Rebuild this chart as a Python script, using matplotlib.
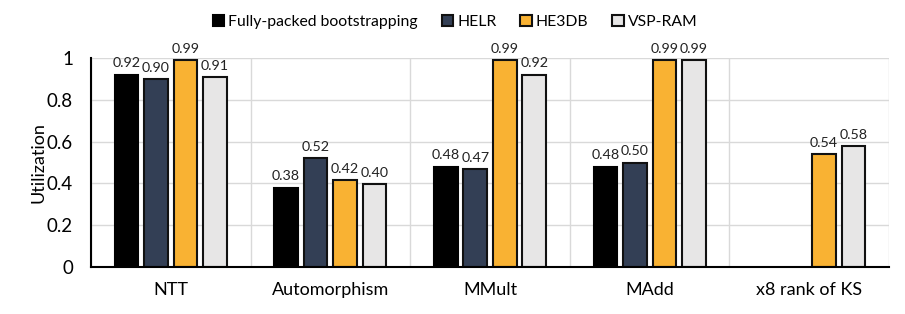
import numpy as np
import matplotlib.pyplot as plt

plt.rcParams['font.family'] = ['Lato', 'DejaVu Sans']

categories = ['NTT', 'Automorphism', 'MMult', 'MAdd', 'x8 rank of KS']
series = ['Fully-packed bootstrapping', 'HELR', 'HE3DB', 'VSP-RAM']
fully_packed = [0.92, 0.38, 0.48, 0.48, np.nan]
helr = [0.90, 0.52, 0.47, 0.50, np.nan]
he3db = [0.99, 0.415, 0.99, 0.99, 0.54]
vsp_ram = [0.91, 0.395, 0.92, 0.99, 0.58]
labels = [
    ['0.92', '0.38', '0.48', '0.48', ''],
    ['0.90', '0.52', '0.47', '0.50', ''],
    ['0.99', '0.42', '0.99', '0.99', '0.54'],
    ['0.91', '0.40', '0.92', '0.99', '0.58'],
]
colors = ['#000000', '#333f55', '#f9b233', '#e7e6e6']

fig = plt.figure(figsize=(9.05, 3.14), dpi=100)
ax = fig.add_axes([91/905, 47/314, 798/905, 209/314])

x = np.arange(len(categories)) + 0.5
pitch = 0.185
width = 0.148
data = [fully_packed, helr, he3db, vsp_ram]
for i, (vals, c, name) in enumerate(zip(data, colors, series)):
    pos = x + (i - 1.5) * pitch
    ec = c if i == 0 else '#111111'
    ax.bar(pos, vals, width, color=c, edgecolor=ec, linewidth=1.5,
           label=name, zorder=3)
    for p, v, t in zip(pos, vals, labels[i]):
        if t:
            ax.text(p, v + 0.025, t, ha='center', va='bottom', fontsize=10.3,
                    color='#222222')

ax.set_xlim(0, len(categories))
ax.set_ylim(0, 1)
ax.set_yticks(np.arange(0, 1.01, 0.2))
ax.set_yticklabels(['0', '0.2', '0.4', '0.6', '0.8', '1'], fontsize=13.5)
ax.set_xticks(x)
ax.set_xticklabels(categories, fontsize=13)
ax.tick_params(length=0, pad=11)
ax.tick_params(axis='y', pad=13)
ax.set_ylabel('Utilization', fontsize=13, labelpad=0)

ax.set_xticks(np.arange(0, len(categories) + 1), minor=True)
ax.tick_params(which='minor', length=0)
ax.grid(axis='y', color='#d9d9d9', linewidth=1, zorder=0)
ax.grid(axis='x', which='minor', color='#d9d9d9', linewidth=1, zorder=0)
ax.grid(axis='x', which='major', visible=False)
for s in ['top', 'right']:
    ax.spines[s].set_visible(False)
ax.spines['left'].set_linewidth(1.5)
ax.spines['bottom'].set_linewidth(1.5)
ax.spines['left'].set_zorder(4)
ax.spines['bottom'].set_zorder(4)

fig.legend(loc='center', bbox_to_anchor=(455/905, 1 - 22/314), ncol=4,
           frameon=False, fontsize=11.3, handlelength=0.75,
           handleheight=0.75, handletextpad=0.25, columnspacing=1.5)

fig.savefig('out.png', dpi=100)
